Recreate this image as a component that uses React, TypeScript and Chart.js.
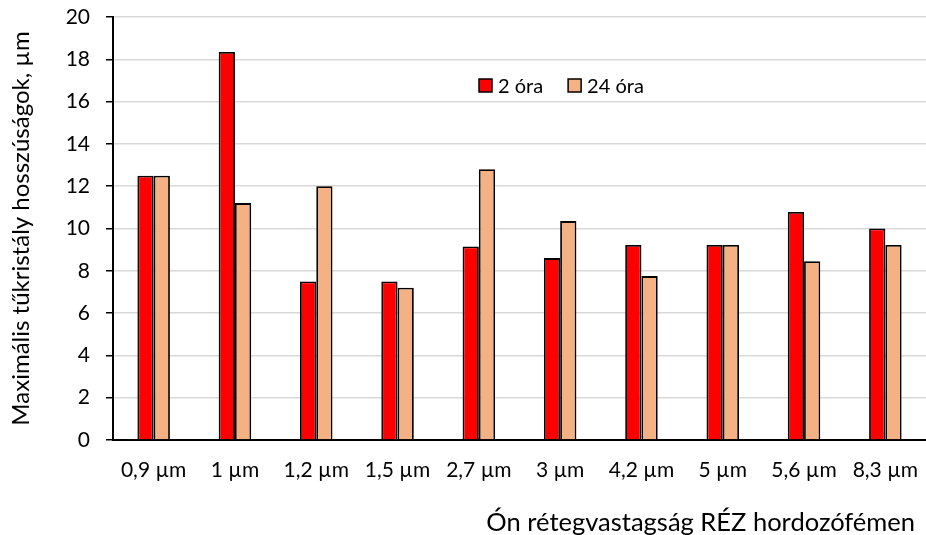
import React, { useEffect, useRef } from "react";
import { Chart, registerables } from "chart.js";

Chart.register(...registerables);

const categories = ["0,9 µm", "1 µm", "1,2 µm", "1,5 µm", "2,7 µm", "3 µm", "4,2 µm", "5 µm", "5,6 µm", "8,3 µm"];
const series2h = [12.5, 18.35, 7.5, 7.5, 9.15, 8.6, 9.22, 9.22, 10.78, 10.0];
const series24h = [12.5, 11.2, 12.0, 7.2, 12.8, 10.35, 7.75, 9.22, 8.45, 9.22];
const seriesNames = ["2 óra", "24 óra"];
const yTicks = [0, 2, 4, 6, 8, 10, 12, 14, 16, 18, 20];
const yTitle = "Maximális tűkristály hosszúságok, µm";
const xTitle = "Ón rétegvastagság RÉZ hordozófémen";

const FONT = "Lato, 'Open Sans', sans-serif";

export default function App() {
  const ref = useRef<HTMLCanvasElement | null>(null);
  useEffect(() => {
    document.body.style.margin = "0";
    const canvas = ref.current;
    if (!canvas) return;
    const legendPlugin = {
      id: "customLegendTitle",
      afterDraw(chart: any) {
        const ctx = chart.ctx;
        const area = chart.chartArea;
        ctx.save();
        ctx.font = `20px ${FONT}`;
        ctx.textBaseline = "middle";
        let x = area.left + 366;
        const y = area.top + 69;
        chart.data.datasets.forEach((ds: any) => {
          ctx.fillStyle = ds.backgroundColor;
          ctx.fillRect(x, y - 7, 13, 13);
          ctx.strokeStyle = "#000";
          ctx.lineWidth = 1.5;
          ctx.strokeRect(x, y - 7, 13, 13);
          ctx.fillStyle = "#000";
          ctx.textAlign = "left";
          ctx.fillText(ds.label, x + 19, y + 1);
          x += 19 + ctx.measureText(ds.label).width + 25;
        });
        ctx.font = `25.5px ${FONT}`;
        ctx.textAlign = "right";
        ctx.textBaseline = "middle";
        ctx.fillText(xTitle, 915, 523);
        ctx.restore();
      },
    };
    const chart = new Chart(canvas, {
      type: "bar",
      data: {
        labels: categories,
        datasets: [
          {
            label: seriesNames[0],
            data: series2h,
            backgroundColor: "#ff0000",
            borderColor: "#000000",
            borderWidth: 1.8,
            categoryPercentage: 0.4,
            barPercentage: 1.0,
          },
          {
            label: seriesNames[1],
            data: series24h,
            backgroundColor: "#f4b183",
            borderColor: "#000000",
            borderWidth: 1.8,
            categoryPercentage: 0.4,
            barPercentage: 1.0,
          },
        ],
      },
      options: {
        responsive: false,
        animation: false,
        maintainAspectRatio: false,
        layout: { padding: { top: 17, right: -3, left: 0, bottom: 0 } },
        plugins: {
          legend: { display: false },
          tooltip: { enabled: false },
        },
        scales: {
          x: {
            grid: { display: false, drawTicks: false },
            border: { color: "#000", width: 2 },
            ticks: { color: "#000", font: { family: FONT, size: 21 }, padding: 18, maxRotation: 0, autoSkip: false },
            afterFit(scale: any) {
              scale.height = 95;
              scale.paddingLeft = 0;
              scale.paddingRight = 0;
            },
          },
          y: {
            min: 0,
            max: 20,
            afterBuildTicks(scale: any) {
              scale.ticks = yTicks.map((v) => ({ value: v }));
            },
            grid: { color: "#d9d9d9", lineWidth: 1.5, tickColor: "#000", tickLength: 7, drawTicks: true },
            border: { color: "#000", width: 2 },
            ticks: { color: "#000", font: { family: FONT, size: 21 }, padding: 16 },
            title: {
              display: true,
              text: yTitle,
              color: "#000",
              font: { family: FONT, size: 24 },
              padding: { top: 7, bottom: 0 },
            },
            afterFit(scale: any) {
              scale.width = 113;
              scale.paddingTop = 0;
              scale.paddingBottom = 0;
            },
          },
        },
      },
      plugins: [legendPlugin],
    });
    return () => chart.destroy();
  }, []);
  return (
    <div style={{ position: "absolute", left: 0, top: 0, width: 926, height: 535, background: "#fff", overflow: "hidden" }}>
      <canvas ref={ref} width={926} height={535} style={{ width: 926, height: 535 }} />
    </div>
  );
}
